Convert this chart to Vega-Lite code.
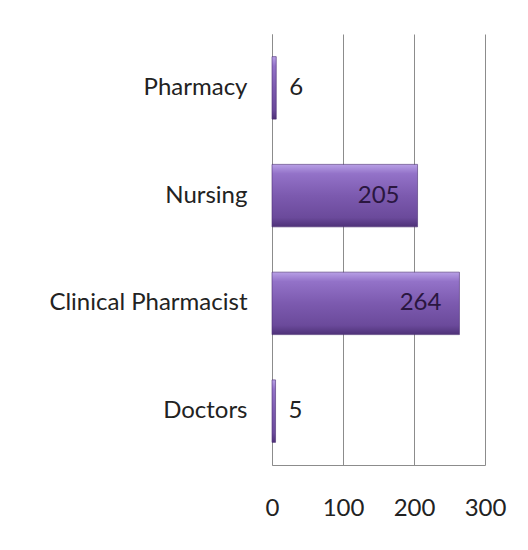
{
  "$schema": "https://vega.github.io/schema/vega-lite/v6.json",
  "width": 213,
  "height": 431,
  "autosize": {"type": "none"},
  "padding": {"left": 272, "top": 34, "right": 43, "bottom": 85},
  "background": "white",
  "config": {"view": {"stroke": null}, "font": "Lato"},
  "data": {"values": [
    {"category": "Pharmacy", "value": 6},
    {"category": "Nursing", "value": 205},
    {"category": "Clinical  Pharmacist", "value": 264},
    {"category": "Doctors", "value": 5}
  ]},
  "encoding": {
    "y": {"field": "category", "type": "nominal", "sort": null,
      "scale": {"paddingInner": 0.42, "paddingOuter": 0.21},
      "axis": {"title": null, "ticks": false, "domain": true, "domainColor": "#8c8c8c", "labelFontSize": 24, "labelColor": "#222222", "labelPadding": 25, "labelFont": "Lato", "labelLimit": 0}},
    "x": {"field": "value", "type": "quantitative",
      "scale": {"domain": [0, 300], "nice": false},
      "axis": {"title": null, "values": [0, 100, 200, 300], "ticks": false, "domainColor": "#8c8c8c", "gridColor": "#8c8c8c", "gridOpacity": 1, "labelFontSize": 24, "labelColor": "#222222", "labelPadding": 31, "labelFont": "Lato", "labelFlush": false}}
  },
  "layer": [
    {"mark": {"type": "bar", "stroke": "#4a2d72", "strokeWidth": 0.6,
      "color": {"gradient": "linear", "x1": 0, "y1": 0, "x2": 0, "y2": 1,
        "stops": [{"offset": 0, "color": "#b8a0e6"}, {"offset": 0.15, "color": "#9372c8"}, {"offset": 0.5, "color": "#7c5aaf"}, {"offset": 0.85, "color": "#6b4a9b"}, {"offset": 1, "color": "#4e3178"}]}}},
    {"transform": [{"filter": "datum.value < 50"}],
      "mark": {"type": "text", "align": "left", "dx": 13, "fontSize": 24, "color": "#222222", "font": "Lato"},
      "encoding": {"text": {"field": "value", "type": "quantitative"}}},
    {"transform": [{"filter": "datum.value >= 50"}],
      "mark": {"type": "text", "align": "right", "dx": -18, "fontSize": 24, "color": "#2a1640", "font": "Lato"},
      "encoding": {"text": {"field": "value", "type": "quantitative"}}}
  ]
}
